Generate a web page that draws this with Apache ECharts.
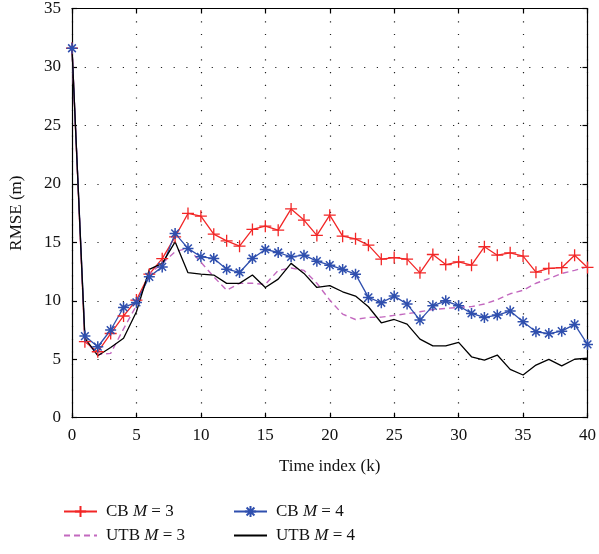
<!DOCTYPE html>
<html>
<head>
<meta charset="utf-8">
<script src="https://cdn.jsdelivr.net/npm/echarts@6/dist/echarts.min.js"></script>
<style>
  html, body { margin: 0; padding: 0; background: #fff; }
  #main { width: 599px; height: 554px; }
</style>
</head>
<body>
<div id="main"></div>
<script>
// 时间索引
const timeIndex = [0, 1, 2, 3, 4, 5, 6, 7, 8, 9, 10, 11, 12, 13, 14, 15, 16, 17, 18, 19, 20,
  21, 22, 23, 24, 25, 26, 27, 28, 29, 30, 31, 32, 33, 34, 35, 36, 37, 38, 39, 40]

// RMSE 数据 (m)
const cbM3 = [31.6, 6.5, 5.64, 7.2, 8.7, 10.06, 12.28, 13.6, 15.47, 17.47, 17.24, 15.7, 15.13, 14.67,
  16.1, 16.38, 16.04, 17.86, 16.9, 15.59, 17.32, 15.53, 15.3, 14.76, 13.56, 13.7, 13.56, 12.39,
  13.96, 13.1, 13.33, 13.05, 14.62, 13.9, 14.1, 13.82, 12.45, 12.77, 12.83, 13.9, 12.85]
const cbM4 = [31.6, 6.98, 6.07, 7.5, 9.43, 9.86, 12.05, 12.9, 15.76, 14.48, 13.76, 13.62, 12.7, 12.42,
  13.62, 14.39, 14.13, 13.76, 13.9, 13.39, 13.05, 12.68, 12.28, 10.29, 9.83, 10.4, 9.72, 8.35,
  9.57, 10.0, 9.57, 8.92, 8.58, 8.78, 9.12, 8.2, 7.35, 7.2, 7.4, 7.98, 6.27]
const utbM3 = [31.6, 6.6, 5.4, 5.5, 7.6, 9.6, 12.3, 13.2, 14.2, 14.5, 13.3, 12.05, 10.9, 11.49,
  11.5, 11.4, 12.6, 12.8, 12.6, 11.5, 10.06, 8.86, 8.4, 8.58, 8.6, 8.75, 8.9, 9.06,
  9.26, 9.35, 9.43, 9.5, 9.72, 10.1, 10.6, 10.9, 11.5, 11.9, 12.34, 12.6, 12.9]
const utbM4 = [31.6, 6.8, 5.3, 6.0, 6.8, 9.06, 12.68, 13.2, 15.04, 12.4, 12.28, 12.2, 11.49, 11.49,
  12.2, 11.14, 11.85, 13.2, 12.34, 11.14, 11.3, 10.77, 10.4, 9.49, 8.12, 8.4, 8.0, 6.72,
  6.15, 6.15, 6.44, 5.21, 4.93, 5.36, 4.13, 3.65, 4.5, 4.99, 4.43, 5.0, 5.1]

const SERIES_NAMES = ['CB M = 3', 'UTB M = 3', 'CB M = 4', 'UTB M = 4']

const FONT = 'Liberation Serif'
const RED = '#f22626'
const BLUE = '#2f4fae'
const PURPLE = '#c369bf'

// 标记形状
const PLUS = 'path://M0,5L10,5M5,0L5,10'
const STAR = 'path://M0,5L10,5M5,0L5,10M1.5,1.5L8.5,8.5M8.5,1.5L1.5,8.5'

const toPairs = (arr) => timeIndex.map((k, i) => [k, arr[i]])

const axisBase = {
  type: 'value',
  interval: 5,
  axisLine: { show: true, onZero: false, lineStyle: { color: '#000', width: 1.2 } },
  axisTick: { show: true, inside: true, length: 5, lineStyle: { color: '#000', width: 1.2 } },
  splitLine: { show: false },
  axisLabel: { show: false }
}

const gridLine = {
  show: true,
  lineStyle: { color: '#222', width: 1.2, type: [1.2, 11.5] }
}

const labelStyle = { show: true, color: '#111', fontFamily: FONT, fontSize: 17 }

// 无标记的线只画线，不画圆点
const legendItem = (name, left, top, noMarker) => {
  const item = {
    data: [name],
    left, top,
    padding: 0,
    itemWidth: 33,
    itemHeight: 14,
    formatter: (n) => n.replace('M', '{i|M}'),
    textStyle: {
      color: '#111', fontFamily: FONT, fontSize: 17, padding: [0, 0, 0, 4],
      rich: { i: { fontStyle: 'italic', fontFamily: FONT, fontSize: 17, color: '#111' } }
    }
  }
  if (noMarker) item.itemStyle = { color: 'rgba(0,0,0,0)', borderWidth: 0, opacity: 0 }
  return item
}

const chart = echarts.init(document.getElementById('main'))

chart.setOption({
  backgroundColor: '#fff',
  animation: false,
  grid: { left: 71.7, right: 7.3, top: 8.2, bottom: 136.3, containLabel: false },
  legend: [
    legendItem(SERIES_NAMES[0], 63, 503, false),
    legendItem(SERIES_NAMES[1], 63, 527, true),
    legendItem(SERIES_NAMES[2], 233, 503, false),
    legendItem(SERIES_NAMES[3], 233, 527, true)
  ],
  xAxis: [
    {
      ...axisBase, min: 0, max: 40, position: 'bottom',
      axisLabel: { ...labelStyle, margin: 9 },
      splitLine: gridLine,
      name: 'Time index (k)', nameLocation: 'middle', nameGap: 40,
      nameTextStyle: { color: '#111', fontFamily: FONT, fontSize: 17 }
    },
    { ...axisBase, min: 0, max: 40, position: 'top' }
  ],
  yAxis: [
    {
      ...axisBase, min: 0, max: 35, position: 'left',
      axisLabel: { ...labelStyle, margin: 11 },
      splitLine: gridLine,
      name: 'RMSE (m)', nameLocation: 'middle', nameGap: 47,
      nameTextStyle: { color: '#111', fontFamily: FONT, fontSize: 17 }
    },
    { ...axisBase, min: 0, max: 35, position: 'right' }
  ],
  series: [
    {
      name: SERIES_NAMES[0], type: 'line', data: toPairs(cbM3),
      symbol: PLUS, symbolSize: 12, showSymbol: true,
      lineStyle: { color: RED, width: 1.3 },
      itemStyle: { color: RED, borderColor: RED, borderWidth: 1.3 }
    },
    {
      name: SERIES_NAMES[1], type: 'line', data: toPairs(utbM3),
      symbol: 'none',
      lineStyle: { color: PURPLE, width: 1.4, type: [6, 4] },
      itemStyle: { color: PURPLE }
    },
    {
      name: SERIES_NAMES[2], type: 'line', data: toPairs(cbM4),
      symbol: STAR, symbolSize: 11, showSymbol: true,
      lineStyle: { color: BLUE, width: 1.3 },
      itemStyle: { color: BLUE, borderColor: BLUE, borderWidth: 1.5 }
    },
    {
      name: SERIES_NAMES[3], type: 'line', data: toPairs(utbM4),
      symbol: 'none',
      lineStyle: { color: '#000', width: 1.3 },
      itemStyle: { color: '#000' }
    }
  ]
})
</script>
</body>
</html>
